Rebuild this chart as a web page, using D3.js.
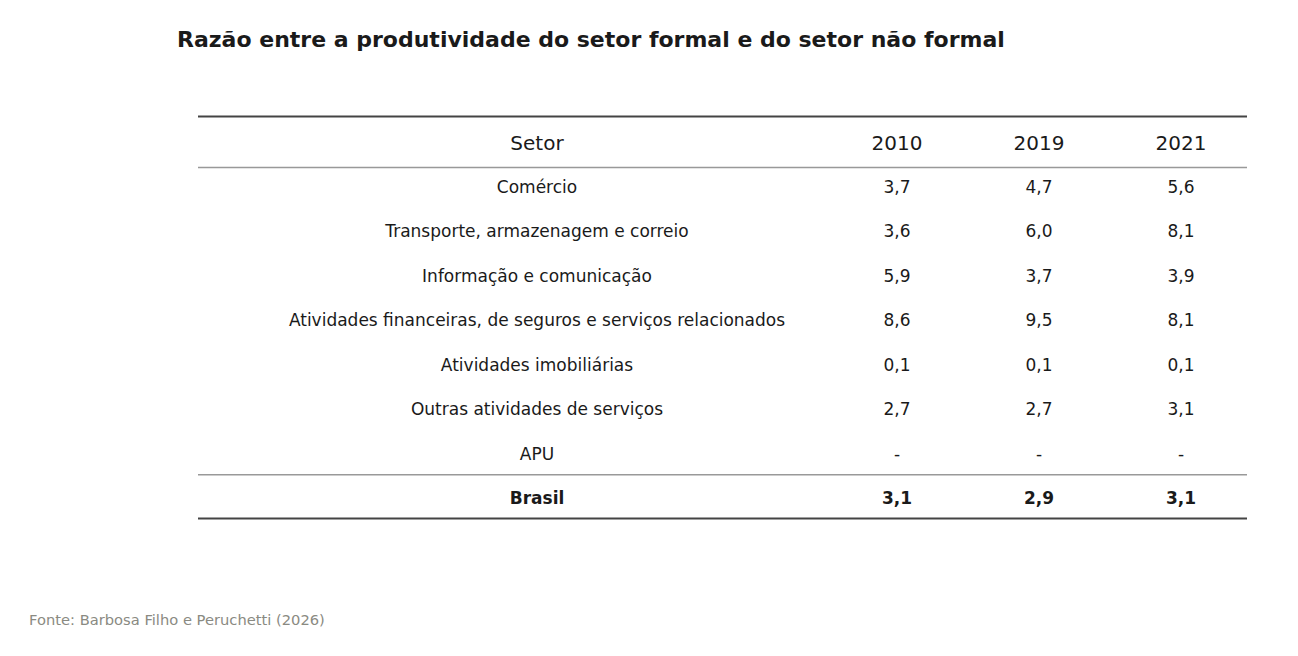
<!DOCTYPE html>
<html>
<head>
<meta charset="utf-8">
<script src="https://cdn.jsdelivr.net/npm/d3@7"></script>
<style>
  html, body { margin: 0; padding: 0; background: #fff; }
  svg { display: block; font-family: "DejaVu Sans", sans-serif; }
</style>
</head>
<body>
<svg id="chart"></svg>
<script>
// ── Data ─────────────────────────────────────────────
const title   = 'Razão entre a produtividade do setor formal e do setor não formal';
const source  = 'Fonte: Barbosa Filho e Peruchetti (2026)';
const columns = ['Setor', '2010', '2019', '2021'];
const sectors = [
  'Comércio',
  'Transporte, armazenagem e correio',
  'Informação e comunicação',
  'Atividades financeiras, de seguros e serviços relacionados',
  'Atividades imobiliárias',
  'Outras atividades de serviços',
  'APU',
];
const v2010 = ['3,7', '3,6', '5,9', '8,6', '0,1', '2,7', '-'];
const v2019 = ['4,7', '6,0', '3,7', '9,5', '0,1', '2,7', '-'];
const v2021 = ['5,6', '8,1', '3,9', '8,1', '0,1', '3,1', '-'];
const totalLabel  = 'Brasil';
const totalValues = ['3,1', '2,9', '3,1'];

// ── Layout ───────────────────────────────────────────
const W = 1298, H = 656;
const svg = d3.select('#chart').attr('width', W).attr('height', H);

const left = 198, right = 1247;
const textColor = '#1a1a1a';

// column centres: first column wide, year columns equal
const xSetor = d3.scaleLinear().domain([0, 1]).range([left, 876]);
const xYear  = d3.scalePoint().domain(columns.slice(1)).range([897, 1181]);
const colX = c => c === 'Setor' ? xSetor(0.5) : xYear(c);

// rows: body rows + total row
const rowKeys = sectors.map((s, i) => 'r' + i).concat(['total']);
const y = d3.scaleBand().domain(rowKeys).range([164.75, 520.75]);
const rowY = k => y(k) + y.bandwidth() / 2;

// ── Title ────────────────────────────────────────────
svg.append('text')
  .attr('x', 177).attr('y', 47)
  .attr('fill', textColor)
  .attr('font-size', 22).attr('font-weight', 'bold')
  .text(title);

// ── Rules ────────────────────────────────────────────
const rule = (yy, color, w) => svg.append('line')
  .attr('x1', left).attr('x2', right)
  .attr('y1', yy).attr('y2', yy)
  .attr('stroke', color).attr('stroke-width', w);

rule(116.5, '#444', 2);
rule(167.5, '#999', 1.3);
rule(y('total') - 1.5, '#999', 1.3);
rule(518.5, '#444', 2);

// ── Header ───────────────────────────────────────────
svg.append('g').selectAll('text')
  .data(columns)
  .join('text')
    .attr('x', d => colX(d))
    .attr('y', 143)
    .attr('dy', '0.35em')
    .attr('text-anchor', 'middle')
    .attr('fill', textColor)
    .attr('font-size', 20)
    .text(d => d);

// ── Body ─────────────────────────────────────────────
const rows = sectors.map((s, i) => ({ key: 'r' + i, cells: [s, v2010[i], v2019[i], v2021[i]], bold: false }));
rows.push({ key: 'total', cells: [totalLabel, ...totalValues], bold: true });

const rowG = svg.append('g').selectAll('g')
  .data(rows)
  .join('g')
    .attr('transform', d => `translate(0,${rowY(d.key)})`);

rowG.selectAll('text')
  .data(d => d.cells.map((c, j) => ({ text: c, col: columns[j], bold: d.bold })))
  .join('text')
    .attr('x', d => colX(d.col))
    .attr('dy', '0.35em')
    .attr('text-anchor', 'middle')
    .attr('fill', textColor)
    .attr('font-size', 17)
    .attr('font-weight', d => d.bold ? 'bold' : 'normal')
    .text(d => d.text);

// ── Source ───────────────────────────────────────────
svg.append('text')
  .attr('x', 29).attr('y', 625)
  .attr('fill', '#8a8a82')
  .attr('font-size', 14.7)
  .text(source);
</script>
</body>
</html>
